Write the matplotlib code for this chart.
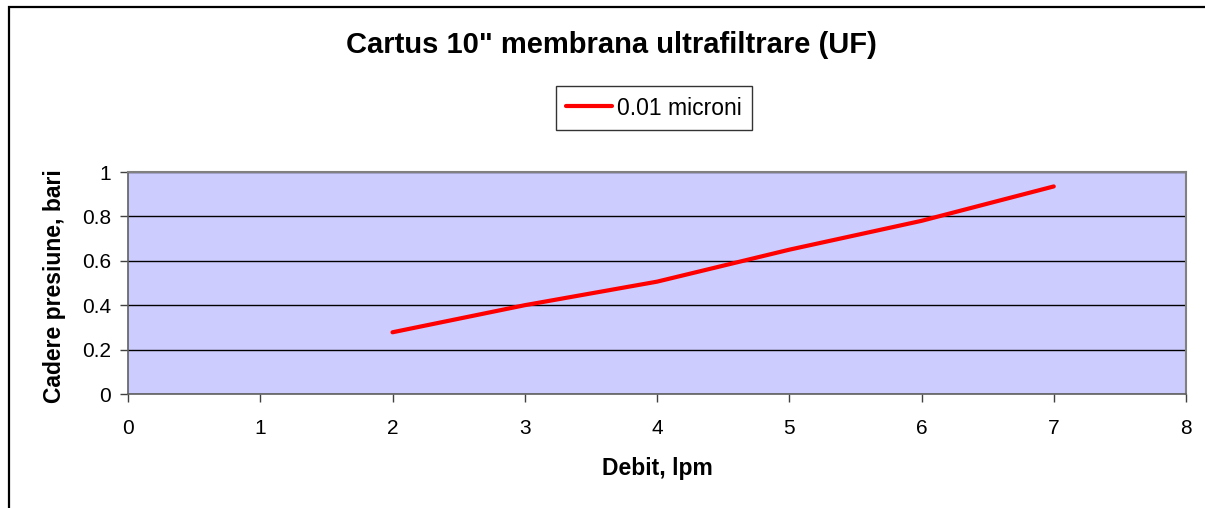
import matplotlib.pyplot as plt
from matplotlib.patches import Rectangle

# data
debit = [2, 3, 4, 5, 6, 7]
cadere = [0.278, 0.40, 0.506, 0.65, 0.78, 0.935]
serie = '0.01 microni'

plt.rcParams['font.family'] = ['Liberation Sans', 'DejaVu Sans']

W, H = 1205, 508
fig = plt.figure(figsize=(W / 100, H / 100), dpi=100)

# outer chart frame (cut off at right and bottom like the original)
fig.patches.append(Rectangle((9 / W, -0.05), 1.2, 1 - 7 / H + 0.05,
                             transform=fig.transFigure, fill=False,
                             edgecolor='black', linewidth=1.6))

left, right, top, bottom = 128, 1186, 172, 394
ax = fig.add_axes([left / W, 1 - bottom / H, (right - left) / W, (bottom - top) / H])
ax.set_facecolor('#CCCCFF')

line, = ax.plot(debit, cadere, color='#FF0000', linewidth=3, solid_capstyle='round', label=serie)

ax.set_xlim(0, 8)
ax.set_ylim(0, 1)
ax.set_xticks(range(0, 9))
ax.set_yticks([0, 0.2, 0.4, 0.6, 0.8, 1])
ax.set_yticklabels(['0', '0.2', '0.4', '0.6', '0.8', '1'])
ax.grid(axis='y', color='black', linewidth=1)
ax.set_axisbelow(True)
ax.tick_params(axis='both', direction='out', length=6, width=1, colors='#404040',
               labelcolor='black', labelsize=15, pad=6)
ax.tick_params(axis='x', pad=12)

for s in ['top', 'right']:
    ax.spines[s].set_color('#808080')
    ax.spines[s].set_linewidth(1.5)
for s in ['left', 'bottom']:
    ax.spines[s].set_color('#606060')
    ax.spines[s].set_linewidth(1.2)

fig.text(611 / W, 1 - 45 / H, 'Cartus 10" membrana ultrafiltrare (UF)',
         ha='center', va='center', fontsize=21, fontweight='bold')
fig.text(55 / W, 1 - 286 / H, 'Cadere presiune, bari', rotation=90,
         ha='center', va='center', fontsize=16.5, fontweight='bold')
fig.text(657 / W, 1 - 468 / H, 'Debit, lpm',
         ha='center', va='center', fontsize=16.5, fontweight='bold')

leg = fig.legend(handles=[line], loc='center', bbox_to_anchor=(654 / W, 1 - 108 / H),
                 fontsize=16.5, frameon=True, fancybox=False, edgecolor='black',
                 handlelength=2.0, handletextpad=0.2, borderpad=0.45, borderaxespad=0)
leg.get_frame().set_linewidth(1)

fig.savefig('out.png', dpi=100)
